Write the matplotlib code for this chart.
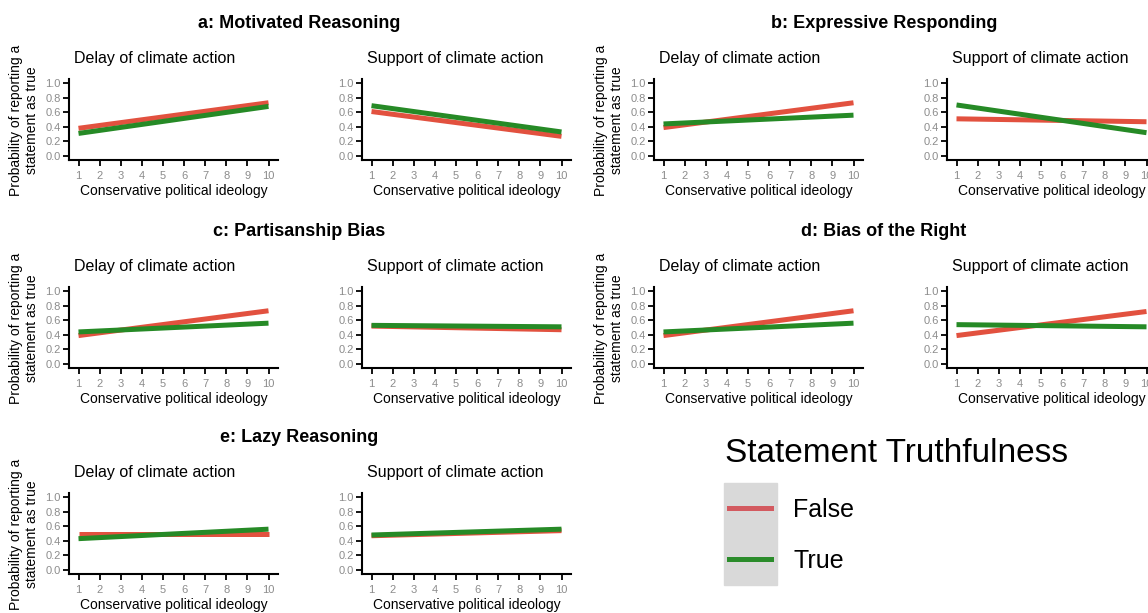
import matplotlib
matplotlib.use("Agg")
import matplotlib.pyplot as plt
from matplotlib.patches import Rectangle
from matplotlib.lines import Line2D

plt.rcParams['font.family'] = ['Liberation Sans', 'DejaVu Sans']

# data, x = conservative political ideology 1..10
ideology = [1, 10]
xticks = [1, 2, 3, 4, 5, 6, 7, 8, 9, 10]
yticks = [0.0, 0.2, 0.4, 0.6, 0.8, 1.0]

panel_titles = ["a: Motivated Reasoning", "b: Expressive Responding",
                "c: Partisanship Bias", "d: Bias of the Right",
                "e: Lazy Reasoning"]
sub_titles = ["Delay of climate action", "Support of climate action"]
legend_labels = ["False", "True"]

a_delay_false = [0.38, 0.73]
a_delay_true = [0.31, 0.68]
a_support_false = [0.61, 0.27]
a_support_true = [0.69, 0.33]

b_delay_false = [0.39, 0.73]
b_delay_true = [0.44, 0.56]
b_support_false = [0.51, 0.47]
b_support_true = [0.70, 0.32]

c_delay_false = [0.39, 0.73]
c_delay_true = [0.44, 0.56]
c_support_false = [0.52, 0.47]
c_support_true = [0.53, 0.51]

d_delay_false = [0.39, 0.73]
d_delay_true = [0.44, 0.56]
d_support_false = [0.39, 0.72]
d_support_true = [0.54, 0.51]

e_delay_false = [0.50, 0.50]
e_delay_true = [0.43, 0.56]
e_support_false = [0.47, 0.54]
e_support_true = [0.48, 0.56]

panels = [
    (a_delay_false, a_delay_true, a_support_false, a_support_true),
    (b_delay_false, b_delay_true, b_support_false, b_support_true),
    (c_delay_false, c_delay_true, c_support_false, c_support_true),
    (d_delay_false, d_delay_true, d_support_false, d_support_true),
    (e_delay_false, e_delay_true, e_support_false, e_support_true),
]

red = '#e2513f'
green = '#268a26'

W, H = 1148, 613
fig = plt.figure(figsize=(W / 100, H / 100), dpi=100)


def box(x, y, w, h):
    # pixel box (top-left origin) -> figure fraction
    return [x / W, 1 - (y + h) / H, w / W, h / H]


col_x = [0, 585]
row_y = [0, 208, 414]
ax_x = [69, 362]
ax_w = 209
ax_top = 79.4
ax_h = 80.3

for i, vals in enumerate(panels):
    px = col_x[i % 2]
    py = row_y[i // 2]
    fig.text((px + 299) / W, 1 - (py + 23) / H, panel_titles[i],
             ha='center', va='center', fontsize=13, fontweight='bold')
    fig.text((px + 24) / W, 1 - (py + 120) / H,
             "Probability of reporting a\nstatement as true",
             ha='center', va='center', rotation=90, fontsize=10,
             linespacing=1.25)
    for j in range(2):
        ax = fig.add_axes(box(px + ax_x[j], py + ax_top, ax_w, ax_h))
        f_vals = vals[2 * j]
        t_vals = vals[2 * j + 1]
        ax.plot(ideology, f_vals, color=red, lw=3.6, solid_capstyle='butt')
        ax.plot(ideology, t_vals, color=green, lw=3.6, solid_capstyle='butt')
        ax.set_xlim(0.55, 10.45)
        ax.set_ylim(-0.05, 1.05)
        ax.set_xticks(xticks)
        ax.set_yticks(yticks)
        ax.set_yticklabels(['%.1f' % v for v in yticks])
        for s in ['top', 'right']:
            ax.spines[s].set_visible(False)
        for s in ['left', 'bottom']:
            ax.spines[s].set_linewidth(1.5)
        ax.tick_params(length=4, width=1.3, labelsize=8,
                       labelcolor='#8c8c8c', pad=2)
        ax.tick_params(axis='x', pad=4)
        ax.set_xlabel("Conservative political ideology", fontsize=10,
                      labelpad=2)
        fig.text((px + ax_x[j] + 5) / W, 1 - (py + 58) / H, sub_titles[j],
                 ha='left', va='center', fontsize=11.5)

# legend
fig.text(725 / W, 1 - 453 / H, "Statement Truthfulness", ha='left',
         va='center', fontsize=24)
fig.patches.append(Rectangle((724 / W, 1 - 585 / H), 53 / W, 102 / H,
                             transform=fig.transFigure, color='#d9d9d9'))
leg_colors = ['#d35a60', '#2b8c2b']
leg_y = [508, 559]
for k in range(2):
    fig.lines.append(Line2D([729 / W, 771 / W], [1 - leg_y[k] / H] * 2,
                            transform=fig.transFigure, color=leg_colors[k],
                            lw=3.6))
    fig.text(793 / W, 1 - (leg_y[k] + 2) / H, legend_labels[k], ha='left',
             va='center', fontsize=18)

fig.savefig('out.png', dpi=100)
